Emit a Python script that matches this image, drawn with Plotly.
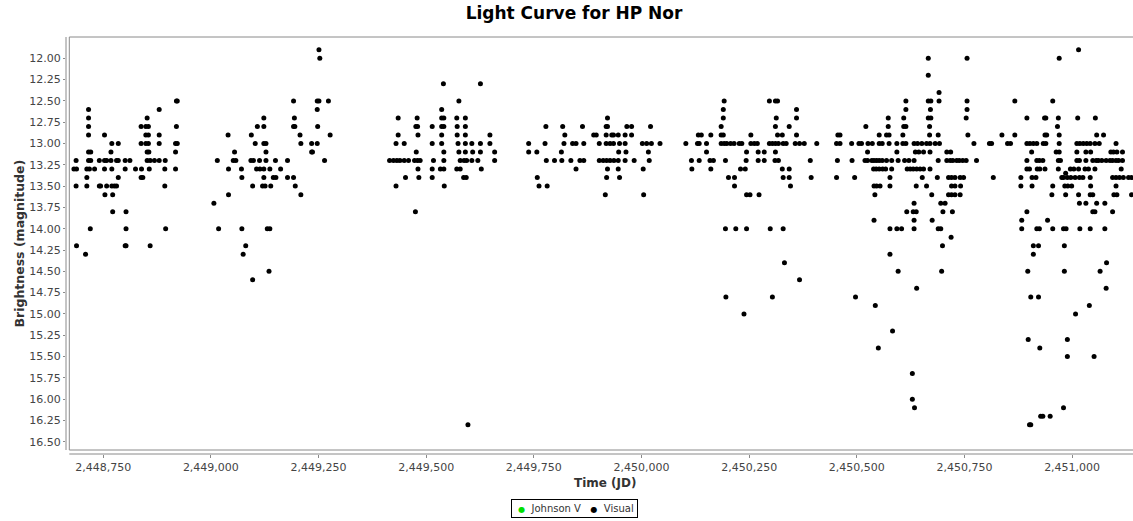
import plotly.graph_objects as go

# ---------------------------
# Visual estimates of HP Nor, one list per observing season
# each row: (magnitude, [JD, JD, ...])
# ---------------------------

obs_1992 = [
    (12.5, [2448920, 2448922]),
    (12.6, [2448716, 2448880]),
    (12.7, [2448716, 2448852]),
    (12.8, [2448716, 2448838, 2448849, 2448855, 2448920]),
    (12.9, [2448716, 2448753, 2448849, 2448855, 2448880]),
    (13.0, [2448770, 2448785, 2448838, 2448849, 2448855, 2448880, 2448918, 2448922]),
    (13.1, [2448716, 2448721, 2448768, 2448852, 2448856, 2448918]),
    (13.2, [2448687, 2448716, 2448721, 2448741, 2448753, 2448758, 2448768, 2448781,
            2448785, 2448801, 2448812, 2448852, 2448859, 2448869, 2448880, 2448894]),
    (13.3, [2448682, 2448688, 2448712, 2448718, 2448730, 2448753, 2448770, 2448801,
            2448825, 2448839, 2448857, 2448893, 2448918]),
    (13.4, [2448712, 2448785, 2448838, 2448842]),
    (13.5, [2448687, 2448712, 2448741, 2448744, 2448758, 2448770, 2448776, 2448781, 2448893]),
    (13.6, [2448754, 2448772]),
    (13.8, [2448772, 2448803]),
    (14.0, [2448720, 2448803, 2448895]),
    (14.2, [2448688, 2448801, 2448803, 2448859]),
    (14.3, [2448709]),
]

obs_1993 = [
    (11.9, [2449251]),
    (12.0, [2449253]),
    (12.5, [2449192, 2449247, 2449251, 2449273]),
    (12.6, [2449247]),
    (12.7, [2449123, 2449194]),
    (12.8, [2449108, 2449123, 2449192, 2449195, 2449248]),
    (12.9, [2449040, 2449094, 2449207, 2449277]),
    (13.0, [2449103, 2449123, 2449128, 2449209, 2449234, 2449247]),
    (13.1, [2449055, 2449128, 2449234, 2449236]),
    (13.2, [2449015, 2449052, 2449058, 2449093, 2449099, 2449113, 2449128, 2449150,
            2449178, 2449264]),
    (13.3, [2449041, 2449071, 2449106, 2449114, 2449123, 2449137, 2449162]),
    (13.4, [2449072, 2449123, 2449145, 2449151, 2449178, 2449192]),
    (13.5, [2449097, 2449120, 2449126, 2449139, 2449196]),
    (13.6, [2449041, 2449209]),
    (13.7, [2449007]),
    (14.0, [2449018, 2449072, 2449131, 2449137]),
    (14.2, [2449081]),
    (14.3, [2449075]),
    (14.5, [2449135]),
    (14.6, [2449097]),
]

obs_1994 = [
    (12.3, [2449540, 2449626]),
    (12.5, [2449576]),
    (12.6, [2449536]),
    (12.7, [2449435, 2449479, 2449536, 2449541, 2449571, 2449591]),
    (12.8, [2449476, 2449480, 2449514, 2449536, 2449541, 2449572, 2449591]),
    (12.9, [2449435, 2449481, 2449536, 2449572, 2449591, 2449648]),
    (13.0, [2449430, 2449449, 2449514, 2449536, 2449574, 2449591, 2449606, 2449626, 2449648]),
    (13.1, [2449477, 2449541, 2449576, 2449591, 2449608, 2449626, 2449659]),
    (13.2, [2449415, 2449424, 2449432, 2449439, 2449449, 2449459, 2449473, 2449480,
            2449486, 2449517, 2449541, 2449579, 2449588, 2449594, 2449606, 2449620, 2449659]),
    (13.3, [2449481, 2449514, 2449533, 2449541, 2449571, 2449579, 2449628]),
    (13.4, [2449452, 2449483, 2449514, 2449587, 2449593]),
    (13.5, [2449430, 2449542]),
    (13.8, [2449475]),
    (16.3, [2449597]),
]

obs_1995 = [
    (12.7, [2449921]),
    (12.8, [2449778, 2449817, 2449863, 2449918, 2449921, 2449966, 2449977, 2450021]),
    (12.9, [2449822, 2449889, 2449895, 2449918, 2449931, 2449935, 2449946, 2449962, 2449977]),
    (13.0, [2449738, 2449776, 2449820, 2449840, 2449848, 2449866, 2449902, 2449918,
            2449927, 2449935, 2449949, 2449962, 2450002, 2450012, 2450023, 2450043]),
    (13.1, [2449738, 2449757, 2449814, 2449947, 2449964, 2450016]),
    (13.2, [2449779, 2449798, 2449815, 2449836, 2449857, 2449866, 2449902, 2449911,
            2449919, 2449927, 2449936, 2449946, 2449962, 2449983, 2450018]),
    (13.3, [2449848, 2449921, 2449946, 2450004]),
    (13.4, [2449758, 2449919, 2449949]),
    (13.5, [2449762, 2449781]),
    (13.6, [2449916, 2450005]),
]

obs_1996 = [
    (12.5, [2450192, 2450297, 2450311, 2450316]),
    (12.6, [2450190, 2450360]),
    (12.7, [2450190, 2450313, 2450360]),
    (12.8, [2450185, 2450311, 2450343]),
    (12.9, [2450132, 2450139, 2450161, 2450185, 2450190, 2450254, 2450316, 2450327, 2450360]),
    (13.0, [2450103, 2450130, 2450134, 2450151, 2450185, 2450192, 2450198, 2450207,
            2450215, 2450227, 2450233, 2450254, 2450262, 2450269, 2450297, 2450304,
            2450311, 2450318, 2450329, 2450336, 2450357, 2450367, 2450378, 2450407]),
    (13.1, [2450151, 2450244, 2450271, 2450285, 2450311]),
    (13.2, [2450116, 2450134, 2450159, 2450167, 2450195, 2450243, 2450271, 2450285,
            2450310, 2450318, 2450392]),
    (13.3, [2450117, 2450161, 2450230, 2450241, 2450327, 2450343]),
    (13.4, [2450202, 2450216, 2450329, 2450343, 2450394]),
    (13.5, [2450216, 2450346]),
    (13.6, [2450244, 2450252, 2450273]),
    (14.0, [2450195, 2450219, 2450244, 2450299, 2450329]),
    (14.4, [2450332]),
    (14.6, [2450367]),
    (14.8, [2450196, 2450304]),
    (15.0, [2450238]),
]

obs_1997 = [
    (12.0, [2450666, 2450756]),
    (12.2, [2450666]),
    (12.4, [2450691]),
    (12.5, [2450614, 2450666, 2450672, 2450691, 2450756]),
    (12.6, [2450614, 2450671, 2450756]),
    (12.7, [2450573, 2450609, 2450666, 2450672, 2450754]),
    (12.8, [2450521, 2450573, 2450609, 2450614, 2450669]),
    (12.9, [2450456, 2450461, 2450552, 2450569, 2450575, 2450607, 2450669, 2450689, 2450758]),
    (13.0, [2450453, 2450461, 2450488, 2450505, 2450511, 2450526, 2450536, 2450552,
            2450559, 2450575, 2450593, 2450607, 2450614, 2450633, 2450641, 2450651,
            2450662, 2450670, 2450682, 2450692, 2450772]),
    (13.1, [2450525, 2450593, 2450636, 2450644, 2450655, 2450670, 2450709, 2450718]),
    (13.2, [2450455, 2450489, 2450519, 2450525, 2450535, 2450540, 2450546, 2450552,
            2450559, 2450569, 2450581, 2450596, 2450611, 2450621, 2450633, 2450689,
            2450709, 2450717, 2450723, 2450732, 2450738, 2450746, 2450754, 2450778]),
    (13.3, [2450539, 2450545, 2450552, 2450560, 2450567, 2450581, 2450617, 2450624,
            2450631, 2450639, 2450647, 2450655, 2450670]),
    (13.4, [2450453, 2450495, 2450577, 2450652, 2450687, 2450713, 2450720, 2450728,
            2450740, 2450748]),
    (13.5, [2450540, 2450546, 2450554, 2450577, 2450638, 2450662, 2450720, 2450728, 2450741]),
    (13.6, [2450542, 2450674, 2450713, 2450720, 2450728, 2450740]),
    (13.7, [2450633, 2450695, 2450705]),
    (13.8, [2450616, 2450631, 2450638, 2450700, 2450722]),
    (13.9, [2450540, 2450633, 2450675]),
    (14.0, [2450577, 2450593, 2450604, 2450633, 2450689, 2450695]),
    (14.1, [2450719]),
    (14.2, [2450699]),
    (14.3, [2450577]),
    (14.5, [2450596, 2450697]),
    (14.7, [2450639]),
    (14.8, [2450497]),
    (14.9, [2450543]),
    (15.2, [2450583]),
    (15.4, [2450550]),
    (15.7, [2450629]),
    (16.0, [2450629]),
    (16.1, [2450634]),
]

obs_1998 = [
    (11.9, [2451015]),
    (12.0, [2450970]),
    (12.5, [2450867, 2450955]),
    (12.7, [2450895, 2450936, 2450939, 2450968, 2451013, 2451054]),
    (12.8, [2450966]),
    (12.9, [2450837, 2450867, 2450937, 2450941, 2450970, 2451057, 2451073]),
    (13.0, [2450808, 2450813, 2450850, 2450857, 2450895, 2450902, 2450910, 2450918,
            2450933, 2450939, 2450970, 2451011, 2451018, 2451026, 2451034, 2451042,
            2451053, 2451063, 2451102]),
    (13.1, [2450906, 2450963, 2450970, 2451011, 2451032, 2451043, 2451090, 2451096,
            2451104, 2451117]),
    (13.2, [2450895, 2450918, 2450924, 2450932, 2450968, 2450973, 2451011, 2451017,
            2451032, 2451048, 2451056, 2451061, 2451069, 2451079, 2451088, 2451094,
            2451102, 2451108, 2451117]),
    (13.3, [2450895, 2450901, 2450919, 2450925, 2450937, 2450968, 2450996, 2451004,
            2451015, 2451030, 2451038, 2451053, 2451114]),
    (13.35, [2450985]),
    (13.4, [2450817, 2450881, 2450907, 2450916, 2450976, 2450980, 2450989, 2450997,
            2451007, 2451017, 2451025, 2451042, 2451094, 2451102, 2451110, 2451119,
            2451131, 2451138]),
    (13.5, [2450881, 2450907, 2450955, 2450983, 2450990, 2450999, 2451043, 2451102]),
    (13.6, [2450953, 2450985, 2451015, 2451042, 2451048, 2451097, 2451104, 2451138]),
    (13.7, [2451017, 2451032, 2451057, 2451076]),
    (13.8, [2450895, 2451048, 2451053, 2451094]),
    (13.9, [2450883, 2450943]),
    (14.0, [2450883, 2450918, 2450924, 2450955, 2450980, 2450986, 2451018, 2451042, 2451076]),
    (14.2, [2450910, 2450922, 2450982]),
    (14.3, [2450910]),
    (14.4, [2451080]),
    (14.5, [2450897, 2450982, 2451065]),
    (14.7, [2451079]),
    (14.8, [2450904, 2450922]),
    (14.9, [2451040]),
    (15.0, [2451008]),
    (15.3, [2450898, 2450989]),
    (15.4, [2450925]),
    (15.5, [2450989, 2451051]),
    (16.1, [2450980]),
    (16.2, [2450927, 2450932, 2450949]),
    (16.3, [2450901, 2450904]),
]

# Johnson V series exists in the legend but has no points in this window
johnson_v_jd = []
johnson_v_mag = []

x_ticks = [2448750 + 250 * i for i in range(10)]
y_ticks = [12.0 + 0.25 * i for i in range(19)]

# ---------------------------
# flatten the seasons
# ---------------------------

visual_jd = []
visual_mag = []
for season in [obs_1992, obs_1993, obs_1994, obs_1995, obs_1996, obs_1997, obs_1998]:
    for mag, days in season:
        for d in days:
            visual_jd.append(d)
            visual_mag.append(mag)

fig = go.Figure()

fig.add_trace(go.Scatter(
    x=johnson_v_jd, y=johnson_v_mag,
    mode="markers", name="Johnson V",
    marker=dict(color="#00e000", size=5),
    showlegend=False
))

fig.add_trace(go.Scatter(
    x=visual_jd, y=visual_mag,
    mode="markers", name="Visual",
    marker=dict(color="black", size=5, line=dict(width=0)),
    showlegend=False
))

frame = "#8a8a8a"
tick_font = dict(family="DejaVu Sans", size=11, color="#444444")
bold = "DejaVu Sans"

fig.update_layout(
    width=1133, height=521,
    margin=dict(l=66, r=0, t=37, b=67),
    paper_bgcolor="white",
    plot_bgcolor="white",
    title=dict(
        text="<b>Light Curve for HP Nor</b>",
        font=dict(family=bold, size=17, color="black"),
        x=574 / 1133, xref="container", xanchor="center",
        y=1 - 13 / 521, yref="container", yanchor="middle"
    ),
    xaxis=dict(
        range=[2448663.6, 2451141.4],
        tickvals=x_ticks, tickformat=",d",
        showgrid=False, zeroline=False, showline=False,
        ticks="outside", ticklen=3, tickcolor=frame,
        tickfont=tick_font
    ),
    yaxis=dict(
        range=[16.644, 11.75],
        tickvals=y_ticks, tickformat=".2f",
        showgrid=False, zeroline=False, showline=False,
        ticks="outside", ticklen=2, tickcolor=frame,
        tickfont=tick_font
    ),
    shapes=[
        # plot frame (inset from the axis lines, runs off the right edge)
        dict(type="rect", xref="paper", yref="paper",
             x0=3.3 / 1067, x1=1.02, y0=4 / 417, y1=1.0,
             line=dict(color=frame, width=1)),
        # detached axis lines
        dict(type="line", xref="paper", yref="paper",
             x0=0, x1=0, y0=4 / 417, y1=1.0,
             line=dict(color=frame, width=1)),
        dict(type="line", xref="paper", yref="paper",
             x0=3.3 / 1067, x1=1.02, y0=0, y1=0,
             line=dict(color=frame, width=1)),
    ],
    annotations=[
        dict(text="<b>Brightness (magnitude)</b>", textangle=-90,
             xref="paper", yref="paper", x=(19 - 66) / 1067, y=(454 - 243.5) / 417,
             xanchor="center", yanchor="middle", showarrow=False,
             font=dict(family=bold, size=12.5, color="#333333")),
        dict(text="<b>Time (JD)</b>",
             xref="paper", yref="paper", x=(605 - 66) / 1067, y=-(483 - 454) / 417,
             xanchor="center", yanchor="middle", showarrow=False,
             font=dict(family=bold, size=12, color="#333333")),
        dict(text="&nbsp;<span style='color:#00e000;font-size:8px'>●</span>&nbsp;&nbsp;Johnson V"
                  "&nbsp;&nbsp;&nbsp;<span style='color:black;font-size:8px'>●</span>&nbsp;&nbsp;Visual",
             xref="paper", yref="paper", x=(574.5 - 66) / 1067, y=-(508.5 - 454) / 417,
             xanchor="center", yanchor="middle", showarrow=False,
             bordercolor="black", borderwidth=1, borderpad=3, bgcolor="white",
             font=dict(family="DejaVu Sans", size=10, color="#333333")),
    ]
)

# the page body has a default 8px margin; drop it so the figure fills the window
fig.write_html(
    "out.html",
    config={"displayModeBar": False},
    post_script="document.body.style.margin = '0';"
)
